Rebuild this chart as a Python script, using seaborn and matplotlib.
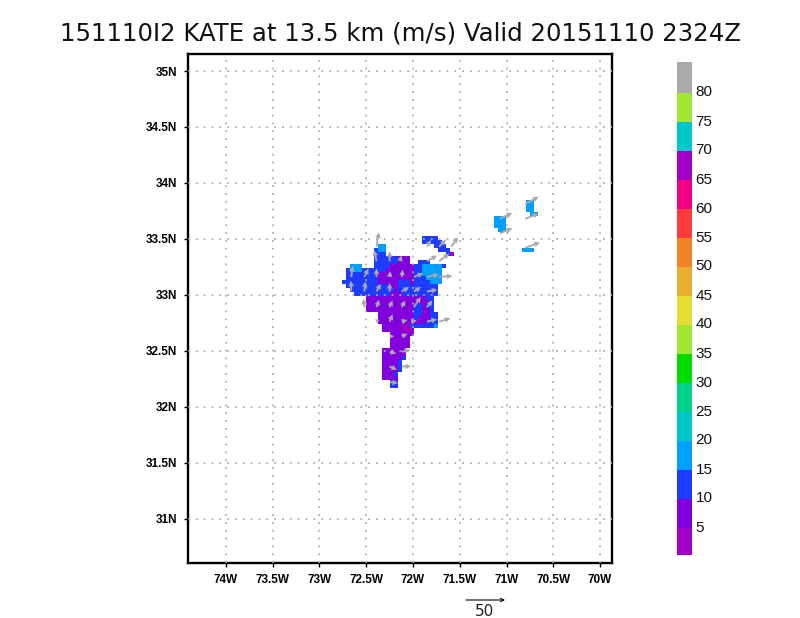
import numpy as np
import pandas as pd
import seaborn as sns
import matplotlib
matplotlib.use("Agg")
import matplotlib.pyplot as plt
from matplotlib.colors import ListedColormap, BoundaryNorm
from matplotlib.cm import ScalarMappable

TITLE = "151110I2 KATE at 13.5 km (m/s) Valid 20151110 2324Z"
LEVELS = list(range(0, 90, 5))
LEVEL_COLORS = ["#a000c8", "#8200dc", "#1e3cff", "#00a0ff", "#00c8c8", "#00d28c",
                "#00dc00", "#a0e632", "#e6dc32", "#e6af2d", "#f08228", "#fa3c3c",
                "#f00082", "#a000c8", "#00c8c8", "#a0e632", "#aaaaaa"]
LON_TICKS = [-74, -73.5, -73, -72.5, -72, -71.5, -71, -70.5, -70]
LON_LABELS = ["74W", "73.5W", "73W", "72.5W", "72W", "71.5W", "71W", "70.5W", "70W"]
LAT_TICKS = [31, 31.5, 32, 32.5, 33, 33.5, 34, 34.5, 35]
LAT_LABELS = ["31N", "31.5N", "32N", "32.5N", "33N", "33.5N", "34N", "34.5N", "35N"]

P, B, L, M = 7.5, 12.5, 17.5, 3.0
FIELD_SPANS = [
    (-5, 49, 50, L), (-4, 49, 50, L), (-3, 49, 50, L), (-2, 50, 51, L),
    (-1, 41, 43, L), (0, 41, 43, L), (1, 41, 43, L), (2, 42, 43, L), (7, 48, 50, L),
    (4, 23, 26, B), (5, 23, 27, B), (6, 12, 13, L), (6, 26, 28, B),
    (7, 11, 11, B), (7, 12, 13, L), (7, 27, 29, B),
    (8, 11, 13, B), (8, 29, 29, B), (8, 30, 30, M),
    (9, 11, 16, B), (9, 17, 19, P),
    (10, 11, 16, B), (10, 17, 19, P), (10, 22, 24, B),
    (11, 5, 7, L), (11, 11, 14, B), (11, 15, 20, P), (11, 21, 22, B), (11, 23, 27, L), (11, 28, 28, B),
    (12, 5, 7, L), (12, 4, 4, B), (12, 8, 8, B), (12, 9, 13, B), (12, 14, 20, P), (12, 21, 22, B), (12, 23, 27, L),
    (13, 4, 11, B), (13, 12, 20, P), (13, 21, 22, B), (13, 23, 27, L),
    (14, 4, 11, B), (14, 12, 20, P), (14, 21, 23, B), (14, 24, 27, L),
    (15, 3, 11, B), (15, 12, 16, P), (15, 17, 19, B), (15, 20, 20, P), (15, 21, 24, B), (15, 25, 27, L),
    (16, 4, 14, B), (16, 15, 16, P), (16, 17, 26, B),
    (17, 5, 15, B), (17, 16, 16, P), (17, 17, 26, B),
    (18, 6, 14, B), (18, 15, 17, P), (18, 18, 26, B),
    (19, 9, 23, P), (19, 24, 25, B),
    (20, 9, 24, P), (20, 25, 25, B),
    (21, 9, 20, P), (21, 21, 22, B), (21, 23, 23, P), (21, 24, 25, B),
    (22, 9, 20, P), (22, 21, 22, B), (22, 23, 24, P), (22, 25, 25, B),
    (23, 12, 20, P), (23, 21, 22, B), (23, 23, 24, P), (23, 25, 26, B),
    (24, 12, 20, P), (24, 21, 21, B), (24, 22, 24, P), (24, 25, 26, B),
    (25, 12, 23, P), (25, 24, 26, B),
    (26, 13, 17, P), (26, 18, 19, M), (26, 20, 25, B), (26, 26, 26, L),
    (27, 13, 17, P), (27, 18, 20, M),
    (28, 15, 17, P), (28, 18, 20, P),
    (29, 15, 19, P), (30, 15, 19, P), (31, 15, 19, P),
    (32, 13, 18, P), (33, 13, 18, P), (34, 13, 17, P), (34, 18, 18, B),
    (35, 13, 16, P), (35, 17, 17, B), (36, 13, 16, P), (36, 17, 17, B),
    (37, 13, 16, P), (37, 17, 17, B), (38, 13, 15, P), (38, 16, 16, B),
    (39, 13, 16, P), (40, 15, 16, B), (41, 15, 16, B),
]

ARROW_LON = [-72.39, -72.39, -72.25, -72.66, -72.52, -72.39, -72.25, -72.12, -72.14,
             -72.66, -72.52, -72.39, -72.25, -72.12, -71.99, -71.85, -71.99, -71.85, -71.72,
             -71.85, -71.72, -71.85, -71.72, -71.59,
             -72.52, -72.39, -72.25, -72.12, -71.99, -71.85,
             -72.37, -72.25, -72.12, -72.02, -71.85, -71.72,
             -72.25, -72.12, -72.25, -72.12, -72.25, -72.12, -72.25,
             -71.07, -71.07, -70.80, -70.80, -70.80]
ARROW_LAT = [33.43, 33.30, 33.30, 33.16, 33.16, 33.16, 33.16, 33.16, 33.30,
             33.03, 33.03, 33.03, 33.03, 33.03, 33.03, 33.03, 33.16, 33.16, 33.16,
             33.30, 33.30, 33.43, 33.43, 33.43,
             32.89, 32.89, 32.89, 32.89, 32.89, 32.89,
             32.76, 32.76, 32.76, 32.76, 32.76, 32.76,
             32.63, 32.63, 32.49, 32.49, 32.36, 32.36, 32.22,
             33.68, 33.55, 33.81, 33.68, 33.42]
ARROW_U = [3.1, -3.1, 0.0, 1.8, 5.3, 0.0, 0.9, 1.3, 2.2,
           -0.4, 1.3, 5.7, 0.0, 9.6, 9.2, 13.6, 12.3, 15.8, 17.5,
           13.2, 13.2, 5.3, 8.8, 8.8,
           -1.3, 3.5, 3.9, 4.4, 8.8, 7.0,
           -4.4, 3.9, 7.5, 7.5, 13.2, 14.9,
           6.1, 7.5, 8.8, 11.0, 9.6, 12.3, 11.0,
           16.2, 16.2, 17.5, 17.5, 19.3]
ARROW_V = [18.9, 14.5, 13.2, 14.5, 11.0, 11.0, 7.5, 9.6, 7.5,
           14.0, 13.2, 10.1, 11.0, 5.7, 5.7, 2.2, 4.8, 3.1, 1.3,
           7.5, 10.1, 8.8, 9.2, 12.3,
           11.0, 9.6, 8.8, 8.8, 13.2, 8.8,
           3.5, 9.6, 2.2, 1.3, 3.1, 4.4,
           0.0, 3.1, -2.2, 3.1, -4.4, 0.0, -1.3,
           7.5, 6.6, 9.6, 6.6, 7.0]

PX_PER_LON, PX_PER_LAT = 93.5, 111.9
DLON, DLAT = 4 / PX_PER_LON, 4 / PX_PER_LAT
LON0 = -74 + (186 - 226) / PX_PER_LON
LAT0 = 35 - (52 - 71) / PX_PER_LAT
NCOLS, NROWS = 107, 128


def xpos(lon):
    return (np.asarray(lon, dtype=float) - LON0) / DLON


def ypos(lat):
    return (LAT0 - np.asarray(lat, dtype=float)) / DLAT


field = np.full((NROWS, NCOLS), np.nan)
for r, c0, c1, val in FIELD_SPANS:
    field[r + 42, c0 + 36: c1 + 37] = val
frame = pd.DataFrame(field,
                     index=np.round(LAT0 - DLAT * (np.arange(NROWS) + .5), 3),
                     columns=np.round(LON0 + DLON * (np.arange(NCOLS) + .5), 3))

sns.set_theme(style="white")
plt.rcParams["font.family"] = ["Liberation Sans", "DejaVu Sans"]
cmap = ListedColormap(LEVEL_COLORS)
norm = BoundaryNorm(LEVELS, cmap.N)

W, H = 800, 618
fig = plt.figure(figsize=(8, 6.18), dpi=100)
ax = fig.add_axes([188 / W, 1 - 563 / H, 424 / W, 509 / H])
sns.heatmap(frame, ax=ax, cmap=cmap, norm=norm, cbar=False, xticklabels=False, yticklabels=False)
ax.set_xlabel("")
ax.set_ylabel("")
ax.set_xlim(xpos(-74.406), xpos(-69.872))
ax.set_ylim(ypos(30.603), ypos(35.152))

ax.set_xticks(xpos(LON_TICKS))
ax.set_xticklabels(LON_LABELS, fontsize=8.5, fontweight="bold", color="black")
ax.set_yticks(ypos(LAT_TICKS))
ax.set_yticklabels(LAT_LABELS, fontsize=8.5, fontweight="bold", color="black")
ax.tick_params(axis="both", length=3, width=1, color="black", pad=5, bottom=True, left=True)
ax.set_axisbelow(False)
ax.grid(True, color="#aaaaaa", linewidth=1.2, linestyle=(0, (1.1, 3.6)))
for s in ax.spines.values():
    s.set_visible(True)
    s.set_color("black")
    s.set_linewidth(1.7)

ax.quiver(xpos(ARROW_LON), ypos(ARROW_LAT), ARROW_U, ARROW_V, color="#aaaaaa",
          angles="uv", units="dots", scale_units="dots", scale=1 / 0.76, width=1.9,
          headwidth=3.0, headlength=3.0, headaxislength=2.8, minlength=0, zorder=4)

fig.add_artist(matplotlib.patches.FancyArrowPatch(
    (466 / W, 1 - 600 / H), (505 / W, 1 - 600 / H), transform=fig.transFigure,
    arrowstyle="->", mutation_scale=6, lw=0.8, color="black", shrinkA=0, shrinkB=0))
fig.text(485 / W, 1 - 611 / H, "50", ha="center", va="center", fontsize=11,
         color="#222222", family="DejaVu Sans")

fig.text(401 / W, 1 - 33 / H, TITLE, ha="center", va="center", fontsize=17.6,
         color="#111111", family="DejaVu Sans")

cax = fig.add_axes([677 / W, 1 - 555 / H, 15 / W, 493 / H])
cb = fig.colorbar(ScalarMappable(norm=norm, cmap=cmap), cax=cax, spacing="uniform")
cb.set_ticks(LEVELS[1:-1])
cb.set_ticklabels([str(v) for v in LEVELS[1:-1]])
cb.minorticks_off()
cb.ax.tick_params(length=0, labelsize=11, pad=2.5, labelcolor="#111111")
cb.ax.tick_params(which="minor", length=0)
cb.outline.set_visible(False)
cb.solids.set_edgecolor("face")

fig.savefig("out.png", dpi=100, facecolor="white")
